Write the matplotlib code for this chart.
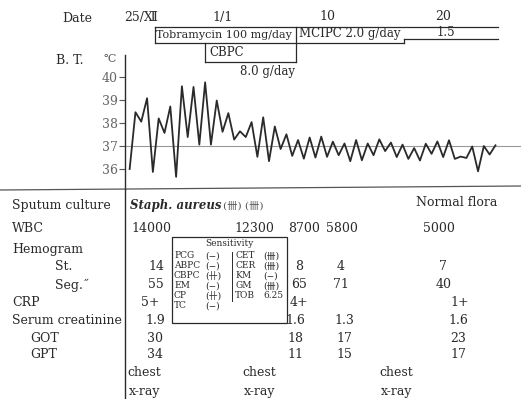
import numpy as np
import matplotlib
matplotlib.use("Agg")
import matplotlib.pyplot as plt
from matplotlib.transforms import blended_transform_factory
from matplotlib.lines import Line2D
from matplotlib.patches import Rectangle

plt.rcParams['font.family'] = ['DejaVu Serif', 'Noto Sans CJK JP']

# body temperature, two readings a day, day 0 = 24/XII
temps = [36.0, 38.47, 38.06, 39.08, 35.87, 38.2, 37.57, 38.72, 35.66, 39.6,
         37.39, 39.57, 37.06, 39.77, 37.06, 38.98, 37.62, 38.43, 37.28, 37.64,
         37.39, 38.04, 36.53, 38.25, 36.34, 37.85, 36.87, 37.51, 36.57, 37.26,
         36.45, 37.37, 36.5, 37.41, 36.53, 37.19, 36.6, 37.11, 36.34, 37.26,
         36.38, 37.11, 36.6, 37.29, 36.78, 37.15, 36.52, 37.06, 36.44, 36.91,
         36.37, 37.1, 36.66, 37.2, 36.52, 37.25, 36.44, 36.54, 36.48, 36.98,
         35.9, 37.0, 36.63, 37.03]

date_days = [1, 8, 17, 27]
date_labels = ["25/Ⅻ", "1/1", "10", "20"]

# drugs (start, end in days)
tobra = (2.2, 23.6)
cbpc = (6.5, 14.3)
mcipc = (14.3, 23.6, 31.7)   # start, dose change, end

# lab table
wbc_days = [1.9, 10.7, 15.0, 18.3, 26.6]
wbc = ["14000", "12300", "8700", "5800", "5000"]
diff_days = [2.3, 14.6, 18.2, 27.0]
st = ["14", "8", "4", "7"]
seg = ["55", "65", "71", "40"]
crp_days = [1.8, 14.6, 28.4]
crp = ["5+", "4+", "1+"]
lab_days = [2.2, 14.3, 18.5, 28.3]
creat = ["1.9", "1.6", "1.3", "1.6"]
got = ["30", "18", "17", "23"]
gpt = ["34", "11", "15", "17"]
xray_days = [1.3, 11.2, 23.0]

sens_left = ["PCG", "ABPC", "CBPC", "EM", "CP", "TC"]
sens_left_res = ["(−)", "(−)", "(卄)", "(−)", "(卄)", "(−)"]
sens_right = ["CET", "CER", "KM", "GM", "TOB"]
sens_right_res = ["(卌)", "(卌)", "(−)", "(卌)", "6.25"]

W, H = 521, 399
def fx(p): return p / W
def fy(p): return 1 - p / H

ink = '#2a2a2a'
grey = '#555555'

fig = plt.figure(figsize=(W / 100, H / 100), dpi=100)
ax = fig.add_axes([fx(125), fy(189), fx(W - 125), (189 - 55) / H])
ax.set_xlim(-0.4, 33.7)
ax.set_ylim(35.13, 40.96)
for s in ['top', 'right', 'bottom']:
    ax.spines[s].set_visible(False)
ax.spines['left'].set_color(ink)
ax.spines['left'].set_linewidth(1.0)
ax.set_xticks([])
ax.set_yticks([36, 37, 38, 39, 40])
ax.tick_params(axis='y', direction='out', length=4, color=grey,
               labelsize=9, labelcolor='#666666', pad=1)
ax.axhline(37, color='#999999', lw=0.8, zorder=1)

t = np.arange(len(temps)) / 2
ax.plot(t, temps, color=ink, lw=1.3, zorder=3)

tr = blended_transform_factory(ax.transData, fig.transFigure)

def hline(x0, x1, py):
    ax.plot([x0, x1], [fy(py), fy(py)], transform=tr, color=ink, lw=0.9, clip_on=False)

def vline(x, py0, py1):
    ax.plot([x, x], [fy(py0), fy(py1)], transform=tr, color=ink, lw=0.9, clip_on=False)

# dates
fig.text(fx(62), fy(18), "Date", fontsize=9, color=ink, va='center')
for d, lab in zip(date_days, date_labels):
    ax.text(d, fy(17), lab, transform=tr, fontsize=9, color=ink, ha='center', va='center')

# drug brackets
hline(tobra[0], mcipc[2], 27)
vline(tobra[0], 27, 43)
hline(tobra[0], tobra[1], 43)
vline(tobra[1], 43, 39)
vline(cbpc[1], 27, 62)
vline(cbpc[0], 43, 62)
hline(cbpc[0], cbpc[1], 62)
hline(mcipc[1], mcipc[2], 39)
ax.text(tobra[0] + 0.1, fy(35), "Tobramycin 100 mg/day", transform=tr,
        fontsize=8, color=ink, va='center')
ax.text(mcipc[0] + 0.3, fy(34), "MCIPC 2.0 g/day", transform=tr,
        fontsize=8.5, color=ink, va='center')
ax.text(27.2, fy(32), "1.5", transform=tr, fontsize=8.5, color=ink, ha='center', va='center')
ax.text(cbpc[0] + 0.4, fy(53), "CBPC", transform=tr, fontsize=8.5, color=ink, va='center')
ax.text(cbpc[1] - 0.1, fy(71), "8.0 g/day", transform=tr, fontsize=8.5, color=ink,
        ha='right', va='center')

fig.text(fx(56), fy(60), "B. T.", fontsize=9, color=ink, va='center')
fig.text(fx(103), fy(59), "℃", fontsize=8, color=grey, va='center')

# separator lines
fig.add_artist(Line2D([0, 1], [fy(190), fy(186)], transform=fig.transFigure, color=grey, lw=0.9))
fig.add_artist(Line2D([fx(125), fx(125)], [fy(189), 0], transform=fig.transFigure, color=ink, lw=1.0))

# row labels
rows = [(12, 206, "Sputum culture"), (12, 228, "WBC"), (12, 249, "Hemogram"),
        (55, 267, "St."), (55, 285, "Seg.˝"), (12, 303, "CRP"),
        (12, 321, "Serum creatinine"), (30, 338, "GOT"), (30, 355, "GPT")]
for px, py, lab in rows:
    fig.text(fx(px), fy(py), lab, fontsize=9, color=ink, va='center')

ax.text(0.0, fy(206), "Staph. aureus", transform=tr, fontsize=8.5, color=ink,
        style='italic', weight='semibold', va='center')
ax.text(8.0, fy(206), "(卌) (卌)", transform=tr, fontsize=7.5, color=grey, va='center')
ax.text(28.2, fy(203), "Normal flora", transform=tr, fontsize=9, color=ink,
        ha='center', va='center')

def row(days, vals, py, ha='center'):
    for d, v in zip(days, vals):
        ax.text(d, fy(py), v, transform=tr, fontsize=9, color=ink, ha=ha, va='center')

row(wbc_days, wbc, 228)
row(diff_days, st, 267)
row(diff_days, seg, 285)
row(crp_days, crp, 303)
row(lab_days, creat, 321)
row(lab_days, got, 338)
row(lab_days, gpt, 355)
row(xray_days, ["chest"] * 3, 373)
row(xray_days, ["x-ray"] * 3, 391)

# sensitivity box
fig.add_artist(Rectangle((fx(172), fy(323)), fx(287 - 172), (323 - 237) / H,
                         transform=fig.transFigure, fill=False, ec=ink, lw=0.9))
fig.text(fx(229), fy(243), "Sensitivity", fontsize=6.5, color=ink, ha='center', va='center')
fig.add_artist(Line2D([fx(232), fx(232)], [fy(252), fy(301)], transform=fig.transFigure,
                      color=ink, lw=0.7))
for i, (n, r) in enumerate(zip(sens_left, sens_left_res)):
    fig.text(fx(174), fy(256 + 10 * i), n, fontsize=6.5, color=ink, va='center')
    fig.text(fx(205), fy(256 + 10 * i), r, fontsize=6.5, color=ink, va='center')
for i, (n, r) in enumerate(zip(sens_right, sens_right_res)):
    fig.text(fx(235), fy(256 + 10 * i), n, fontsize=6.5, color=ink, va='center')
    fig.text(fx(263), fy(256 + 10 * i), r, fontsize=6.5, color=ink, va='center')

fig.savefig("out.png", dpi=100, facecolor='white')
